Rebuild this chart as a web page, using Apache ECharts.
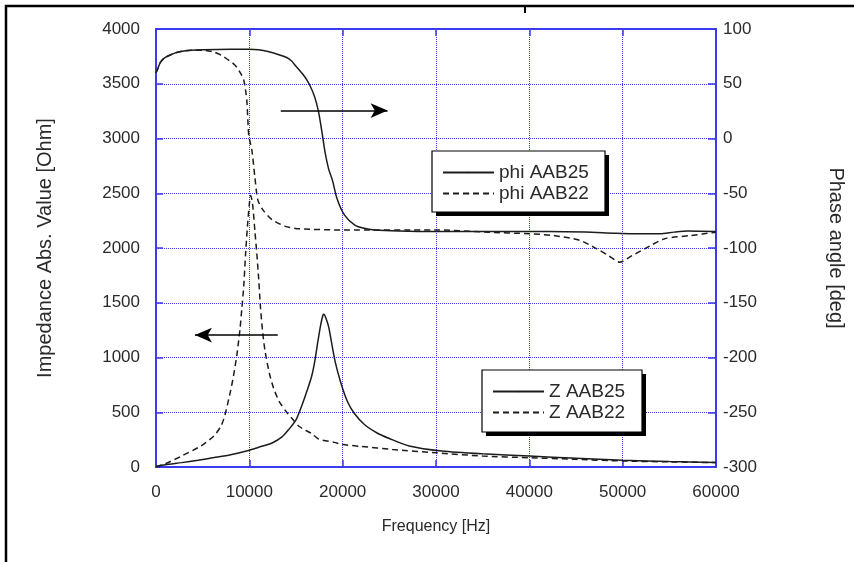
<!DOCTYPE html>
<html>
<head>
<meta charset="utf-8">
<script src="https://cdn.jsdelivr.net/npm/echarts@6/dist/echarts.min.js"></script>
<style>html,body{margin:0;padding:0;background:#fff}#c{width:854px;height:562px}</style>
</head>
<body>
<div id="c"></div>
<script>
// ---- data ----
const freqTicks = [0, 10000, 20000, 30000, 40000, 50000, 60000];
const zTicks = [0, 500, 1000, 1500, 2000, 2500, 3000, 3500, 4000];
const phiTicks = [-300, -250, -200, -150, -100, -50, 0, 50, 100];

const fZ25 = [0,1000,2740,4500,6220,8000,9700,11000,12490,13500,14220,15000,15610,16200,16670,17000,17370,17650,17890,18000,18200,18500,18760,19200,19810,20500,21200,22300,23640,25000,27120,30610,35000,40000,45000,50000,55000,60000];
const zAAB25 = [5,20,40,62,86,112,146,180,222,275,342,430,557,700,826,960,1160,1300,1388,1395,1360,1280,1160,960,767,600,495,390,313,260,192,146,120,100,80,62,50,42];

const fZ22 = [0,1000,2740,4810,6200,7000,7440,8000,8300,8660,9000,9200,9400,9600,9800,10000,10150,10350,10600,10800,11000,11200,11440,11700,12140,12600,13190,14000,14600,15350,16670,17430,19100,20000,22000,25350,30000,35000,40000,45000,50000,55000,60000];
const zAAB22 = [0,30,100,192,283,380,493,700,830,1020,1260,1450,1650,1950,2200,2400,2480,2400,2150,1950,1720,1450,1220,1050,858,720,600,500,440,370,305,255,225,205,188,160,130,100,85,70,55,47,40];

const fPhi25 = [0,200,500,1000,2000,3000,5000,8000,10000,11000,12000,13000,14000,14500,15000,15800,16400,17000,17400,17800,18100,18500,18900,19400,20200,21300,22300,23400,26000,30000,35000,42000,46000,49000,51000,54000,55500,57000,60000];
const phiAAB25 = [60,64,70,74,78,80,81,81.5,81.5,81,79.5,77,74,71,66,58,50,38,25,5,-12,-28,-38,-55,-70,-79,-82,-83.5,-84.5,-85,-85,-85,-85.5,-86.5,-87,-87,-85.5,-84.5,-85];

const fPhi22 = [0,200,500,1000,2000,3000,4000,5000,5600,6200,7000,7600,8200,8660,9100,9410,9600,9730,9850,9950,10270,10590,10910,11440,12410,13800,15400,20000,30000,35600,40000,42600,45400,47200,48500,49700,51000,52400,54500,57300,60000];
const phiAAB22 = [60,64,70,74,78,80,80.5,80.5,80,79,76,72.6,69,65,59,53,44,35,15,2,-10.5,-35,-56,-65,-74,-80,-82.5,-83.5,-83.5,-85.6,-87,-88.6,-93,-100.6,-107,-113,-107,-100.6,-91.6,-88.6,-85.6];

// annotation arrows (data coordinates)
const arrowPhi = [[13370, 25.5], [24810, 25.5]];
const arrowZ = [[13050, 1205], [4170, 1205]];

const pairs = (xs, ys) => xs.map((x, i) => [x, ys[i]]);

const BLUE = '#3a3aee';
const INK = '#1c1c1c';
const TXT = '#2a2a2a';
const FONT = 'Liberation Sans, Arial, sans-serif';

const chart = echarts.init(document.getElementById('c'), null, {renderer: 'canvas'});

const lineSeries = (name, xs, ys, yIdx, dashed, extra) => Object.assign({
  name, type: 'line', xAxisIndex: 0, yAxisIndex: yIdx,
  data: pairs(xs, ys), showSymbol: false, symbol: 'none', smooth: 0.25,
  lineStyle: {color: INK, width: 1.5, type: dashed ? [6, 4] : 'solid'},
  itemStyle: {color: INK},
  animation: false, silent: true, z: 3
}, extra || {});

const arrowMark = (coords, syms) => ({
  silent: true, animation: false,
  symbol: syms, symbolSize: [11, 17],
  label: {show: false},
  lineStyle: {color: '#000', width: 1.6, type: 'solid'},
  itemStyle: {color: '#000'},
  data: [[{coord: coords[0]}, {coord: coords[1]}]]
});

const legendBox = (names, left, top, padding) => ({
  data: names, orient: 'vertical', left, top, z: 8,
  itemWidth: 51, itemHeight: 2, itemGap: 0,
  padding, backgroundColor: 'transparent', borderWidth: 0,
  textStyle: {fontSize: 19, color: TXT, fontFamily: FONT, lineHeight: 21},
  selectedMode: false
});

const boxGraphic = (x, y, w, h) => ([
  {type: 'rect', z: 6, silent: true, shape: {x: x + 4, y: y + 4, width: w, height: h}, style: {fill: '#000'}},
  {type: 'rect', z: 7, silent: true, shape: {x, y, width: w, height: h}, style: {fill: '#fff', stroke: '#000', lineWidth: 1.2}}
]);

const numFmt = v => String(v);

const option = {
  backgroundColor: '#fff',
  animation: false,
  textStyle: {fontFamily: FONT},
  grid: {left: 156, right: 137, top: 29, bottom: 95, containLabel: false},
  graphic: [
    {type: 'rect', shape: {x: 6, y: 6, width: 1000, height: 1000}, style: {fill: 'none', stroke: '#000', lineWidth: 2.5}, silent: true},
    {type: 'rect', shape: {x: 524, y: 7, width: 2, height: 6}, style: {fill: '#000'}, silent: true}
  ].concat(boxGraphic(432, 151, 173, 61), boxGraphic(482, 370, 160, 62)),
  legend: [
    legendBox(['phi AAB25', 'phi AAB22'], 432, 151, [11, 17, 9, 10]),
    legendBox(['Z AAB25', 'Z AAB22'], 482, 370, [11, 18, 9, 10])
  ],
  xAxis: [{
    type: 'value', position: 'bottom',
    min: freqTicks[0], max: freqTicks[freqTicks.length - 1], interval: freqTicks[1] - freqTicks[0],
    name: 'Frequency [Hz]', nameLocation: 'middle', nameGap: 52,
    nameTextStyle: {fontSize: 16, color: TXT, fontFamily: FONT},
    axisLine: {show: true, onZero: false, lineStyle: {color: BLUE, width: 2}},
    axisTick: {show: true, inside: true, length: 7, lineStyle: {color: BLUE, width: 1.5}},
    axisLabel: {fontSize: 17, color: TXT, margin: 17, fontFamily: FONT, formatter: numFmt},
    splitLine: {show: true, lineStyle: {color: BLUE, width: 1, type: [1, 1]}}
  }, {
    type: 'value', position: 'top',
    min: freqTicks[0], max: freqTicks[freqTicks.length - 1], interval: freqTicks[1] - freqTicks[0],
    axisLine: {show: true, onZero: false, lineStyle: {color: BLUE, width: 2}},
    axisTick: {show: true, inside: true, length: 7, lineStyle: {color: BLUE, width: 1.5}},
    axisLabel: {show: false}, splitLine: {show: false}
  }],
  yAxis: [{
    type: 'value', position: 'left',
    min: zTicks[0], max: zTicks[zTicks.length - 1], interval: zTicks[1] - zTicks[0],
    name: 'Impedance Abs. Value [Ohm]', nameLocation: 'middle', nameGap: 101, nameRotate: 90,
    nameTextStyle: {fontSize: 20, color: TXT, fontFamily: FONT},
    axisLine: {show: true, onZero: false, lineStyle: {color: BLUE, width: 2}},
    axisTick: {show: true, inside: true, length: 7, lineStyle: {color: BLUE, width: 1.5}},
    axisLabel: {fontSize: 17, color: TXT, margin: 16, fontFamily: FONT, formatter: numFmt},
    splitLine: {show: true, lineStyle: {color: BLUE, width: 1, type: [1, 1]}}
  }, {
    type: 'value', position: 'right',
    min: phiTicks[0], max: phiTicks[phiTicks.length - 1], interval: phiTicks[1] - phiTicks[0],
    name: 'Phase angle [deg]', nameLocation: 'middle', nameGap: 110, nameRotate: -90,
    nameTextStyle: {fontSize: 20, color: TXT, fontFamily: FONT},
    axisLine: {show: true, onZero: false, lineStyle: {color: BLUE, width: 2}},
    axisTick: {show: true, inside: true, length: 8, lineStyle: {color: BLUE, width: 1.5}},
    axisLabel: {fontSize: 17, color: TXT, margin: 7, fontFamily: FONT, formatter: numFmt},
    splitLine: {show: false}
  }],
  series: [
    lineSeries('phi AAB25', fPhi25, phiAAB25, 1, false, {markLine: arrowMark(arrowPhi, ['none', 'arrow'])}),
    lineSeries('phi AAB22', fPhi22, phiAAB22, 1, true),
    lineSeries('Z AAB25', fZ25, zAAB25, 0, false, {markLine: arrowMark(arrowZ, ['none', 'arrow'])}),
    lineSeries('Z AAB22', fZ22, zAAB22, 0, true)
  ]
};
chart.setOption(option);
</script>
</body>
</html>
